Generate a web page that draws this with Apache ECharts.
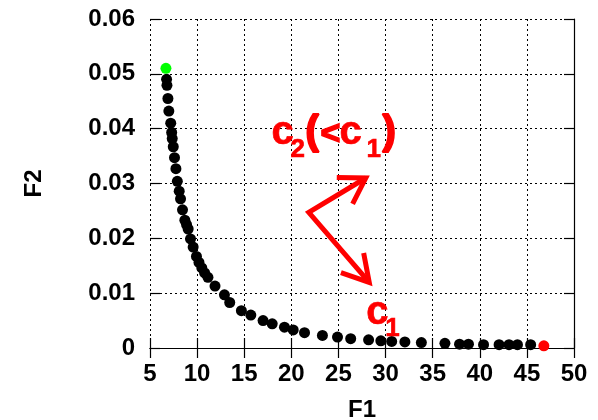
<!DOCTYPE html>
<html><head><meta charset="utf-8">
<script src="https://cdn.jsdelivr.net/npm/echarts@6/dist/echarts.min.js"></script>
<style>html,body{margin:0;padding:0;background:#fff}#c{width:598px;height:420px}</style>
</head><body><div id="c"></div>
<script>
// Data
const f1 = [6.76,6.8,6.9,7.0,7.2,7.3,7.36,7.47,7.6,7.75,7.9,8.1,8.24,8.45,8.7,8.88,9.05,9.3,9.58,9.93,10.2,10.5,10.8,11.15,11.9,12.9,13.46,14.7,15.7,17.0,17.97,19.27,20.2,21.4,23.3,24.9,26.3,28.2,29.5,30.65,32.05,33.8,36.3,37.85,38.8,40.4,42.05,43.1,44.0,45.4];
const f2 = [0.0490,0.0479,0.0455,0.0432,0.0410,0.0393,0.0382,0.0367,0.0347,0.0327,0.0304,0.0286,0.0272,0.0252,0.0233,0.0225,0.0217,0.0199,0.0184,0.0167,0.0156,0.0146,0.0137,0.0129,0.0113,0.0097,0.0083,0.0068,0.0060,0.0050,0.0044,0.0038,0.0033,0.0028,0.0023,0.0020,0.0017,0.0015,0.0013,0.0012,0.0011,0.0010,0.00085,0.0007,0.0007,0.0006,0.0006,0.0006,0.0006,0.0006];
const startPoint = [6.69, 0.0510];
const endPoint = [46.8, 0.0004];
const xRange = [5, 50, 5];
const yRange = [0, 0.06, 0.01];
// annotation anchors (data coordinates)
const arrowVertex = [21.85, 0.02475];
const arrowTipUp = [27.9, 0.0310];
const arrowTipDown = [28.27, 0.01195];
const labelC2Anchor = [17.9, 0.0366];
const labelC1Anchor = [27.95, 0.00384];

const pts = f1.map((x, i) => [x, f2[i]]);
const chart = echarts.init(document.getElementById('c'), null, {renderer: 'canvas'});
const FONT = 'Liberation Sans, Arial, sans-serif';
const labelFont = {color: '#000', fontFamily: FONT, fontWeight: 'bold', fontSize: 24};
const grid = {type: [2, 3], color: '#000', width: 1};
const frame = {color: '#000', width: 1.2};
chart.setOption({
  animation: false,
  backgroundColor: '#fff',
  grid: {left: 150, right: 24, top: 19, bottom: 72, containLabel: false, outerBoundsMode: 'none'},
  xAxis: [{
    type: 'value', min: xRange[0], max: xRange[1], interval: xRange[2], position: 'bottom',
    name: 'F1', nameLocation: 'middle', nameGap: 50,
    nameTextStyle: {color: '#000', fontFamily: FONT, fontWeight: 'bold', fontSize: 24},
    axisLine: {show: true, lineStyle: frame},
    axisTick: {show: true, inside: true, length: 10, lineStyle: frame},
    axisLabel: Object.assign({margin: 14}, labelFont),
    splitLine: {show: true, lineStyle: grid}
  }, {
    type: 'value', min: xRange[0], max: xRange[1], interval: xRange[2], position: 'top',
    axisLine: {show: true, lineStyle: frame},
    axisTick: {show: true, inside: true, length: 10, lineStyle: frame},
    axisLabel: {show: false}, splitLine: {show: false}
  }],
  yAxis: [{
    type: 'value', min: yRange[0], max: yRange[1], interval: yRange[2], position: 'left',
    name: 'F2', nameLocation: 'middle', nameGap: 104, nameRotate: 90,
    nameTextStyle: {color: '#000', fontFamily: FONT, fontWeight: 'bold', fontSize: 24},
    axisLine: {show: false},
    axisTick: {show: true, inside: true, length: 10, lineStyle: frame},
    axisLabel: Object.assign({margin: 15}, labelFont),
    splitLine: {show: true, lineStyle: grid}
  }, {
    type: 'value', min: yRange[0], max: yRange[1], interval: yRange[2], position: 'right',
    axisLine: {show: true, lineStyle: frame},
    axisTick: {show: true, inside: true, length: 10, lineStyle: frame},
    axisLabel: {show: false}, splitLine: {show: false}
  }],
  series: [
    {type: 'scatter', data: pts, symbolSize: 11, itemStyle: {color: '#000', opacity: 1}, z: 3},
    {type: 'scatter', data: [startPoint], symbolSize: 11, itemStyle: {color: '#00ff00', opacity: 1}, z: 4},
    {type: 'scatter', data: [endPoint], symbolSize: 11, itemStyle: {color: '#ff0000', opacity: 1}, z: 4}
  ]
});

function px(p) { return chart.convertToPixel({gridIndex: 0}, p); }
function head(tip, from, len, ang) {
  const dx = from[0] - tip[0], dy = from[1] - tip[1];
  const a = Math.atan2(dy, dx);
  const r = ang * Math.PI / 180;
  return [[tip[0] + len * Math.cos(a + r), tip[1] + len * Math.sin(a + r)], tip,
          [tip[0] + len * Math.cos(a - r), tip[1] + len * Math.sin(a - r)]];
}
const v = px(arrowVertex), tu = px(arrowTipUp), td = px(arrowTipDown);
const red = '#ff0000';
const lineStyle = {stroke: red, lineWidth: 5, fill: null, lineJoin: 'miter', lineCap: 'butt'};
const graphics = [
  {type: 'polyline', shape: {points: [tu, v, td]}, style: lineStyle, z: 10},
  {type: 'polyline', shape: {points: head(tu, v, 29, 32)}, style: lineStyle, z: 10},
  {type: 'polyline', shape: {points: head(td, v, 30, 30)}, style: lineStyle, z: 10}
];
function addText(anchor, parts) {
  const a = px(anchor);
  parts.forEach(p => {
    graphics.push({type: 'text', x: a[0] + p.dx, y: a[1] + p.dy - p.size * 0.35, z: 11,
      style: {text: p.t, fill: red, fontSize: p.size, fontWeight: 'bold',
        fontFamily: 'Liberation Sans Narrow, Liberation Sans, sans-serif',
        stroke: red, lineWidth: p.w || 0.6,
        align: 'left', verticalAlign: 'middle'}});
  });
}
addText(labelC2Anchor, [
  {t: 'c', dx: 0, dy: 0, size: 40}, {t: '2', dx: 19, dy: 12, size: 26},
  {t: '(', dx: 34, dy: 0, size: 40, w: 2.0}, {t: '<', dx: 49, dy: -1, size: 34, w: 1.5},
  {t: 'c', dx: 68, dy: 0, size: 40}, {t: '1', dx: 95, dy: 12, size: 26},
  {t: ')', dx: 111, dy: 0, size: 40, w: 2.0}
]);
addText(labelC1Anchor, [
  {t: 'c', dx: 0, dy: 0, size: 40}, {t: '1', dx: 19, dy: 11, size: 26}
]);
chart.setOption({graphic: graphics});
</script>
</body></html>
